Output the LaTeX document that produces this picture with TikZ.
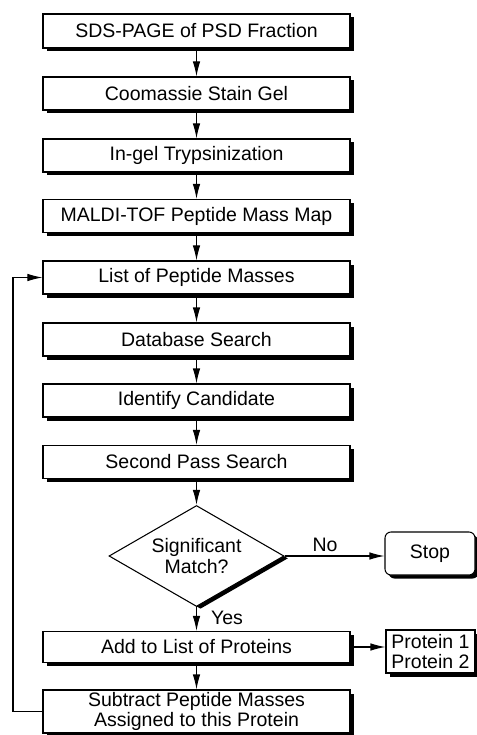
\documentclass[tikz,border=0pt]{standalone}
\usepackage{fontspec}
\setmainfont{Liberation Sans}
\usetikzlibrary{shapes.geometric,shadows,arrows.meta}

\tikzset{
  stage/.style={draw, line width=0.6pt, fill=white, minimum width=6.14cm, minimum height=0.66cm,
    inner sep=1pt, align=center, font=\fontsize{11.1}{11.6}\selectfont,
    drop shadow={shadow xshift=0.07cm, shadow yshift=-0.07cm, fill=black, opacity=1}},
  decision/.style={diamond, draw, line width=0.6pt, fill=white, minimum width=3.5cm, minimum height=2.02cm,
    aspect=1.73, inner sep=0pt, align=center, font=\fontsize{11.1}{11.6}\selectfont,
    drop shadow={shadow xshift=0.08cm, shadow yshift=-0.047cm, fill=black, opacity=1}},
  flow/.style={line width=0.6pt, -{Latex[length=0.3cm,width=0.15cm]}},
  tag/.style={font=\fontsize{11.1}{11.6}\selectfont}
}

\begin{document}
\begin{tikzpicture}

\useasboundingbox (0,0) rectangle (9.54,-14.7);

%main column of steps
\node [stage, minimum height=0.68cm] (sds) at (3.93,-0.62) {SDS-PAGE of PSD Fraction};
\node [stage] (stain) at (3.93,-1.87) {Coomassie Stain Gel};
\node [stage] (trypsin) at (3.93,-3.11) {In-gel Trypsinization};
\node [stage] (maldi) at (3.93,-4.32) {MALDI-TOF Peptide Mass Map};
\node [stage] (masses) at (3.93,-5.55) {List of Peptide Masses};
\node [stage] (search) at (3.93,-6.79) {Database Search};
\node [stage] (candidate) at (3.93,-8.01) {Identify Candidate};
\node [stage] (second) at (3.93,-9.24) {Second Pass Search};
\node [decision] (match) at (3.93,-11.12) {Significant\\Match?};
\node [stage, minimum width=1.8cm, minimum height=0.86cm, rounded corners=0.12cm] (stop) at (8.6,-11.07) {Stop};
\node [stage, minimum height=0.62cm] (add) at (3.93,-12.94) {Add to List of Proteins};
\node [stage, minimum width=1.78cm, minimum height=0.86cm] (proteins) at (8.61,-13.03) {Protein 1\\Protein 2};
\node [stage, minimum height=0.86cm] (subtract) at (3.93,-14.23) {Subtract Peptide Masses\\Assigned to this Protein};

%arrows down the column
\draw [flow] (sds) -- (stain);
\draw [flow] (stain) -- (trypsin);
\draw [flow] (trypsin) -- (maldi);
\draw [flow] (maldi) -- (masses);
\draw [flow] (masses) -- (search);
\draw [flow] (search) -- (candidate);
\draw [flow] (candidate) -- (second);
\draw [flow] (second) -- (match);
\draw [flow] (match) -- (add);
\draw [flow] (add) -- (subtract);

%side branches
\draw [flow] (match.east) -- (match.east -| stop.west);
\draw [flow] (add.east) -- (add.east -| proteins.west);
\node [tag] (no) at (6.5,-10.9) {No};
\node [tag] (yes) at (4.54,-12.36) {Yes};

%loop back to the peptide list
\coordinate (loop) at (0.26,-14.23);
\draw [flow] (subtract.west) -- (loop) |- (masses.west);

\end{tikzpicture}
\end{document}
